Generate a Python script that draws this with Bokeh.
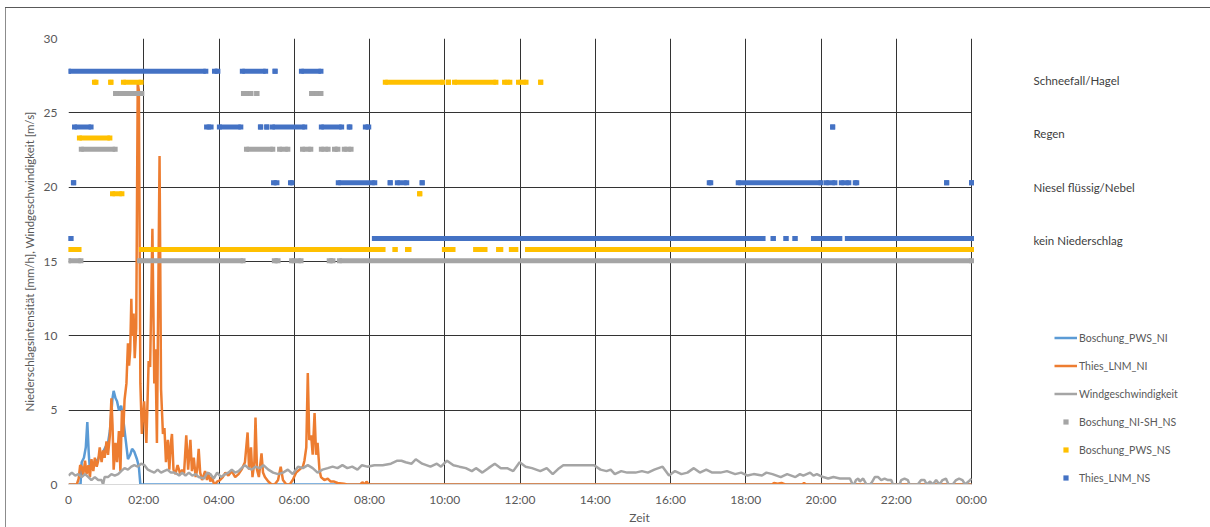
from bokeh.plotting import figure
from bokeh.models import FixedTicker, Legend, LegendItem
from bokeh.core.properties import value
from bokeh.embed import file_html
from bokeh.resources import INLINE

# ---------------- data ----------------
x_ticks = [0, 2, 4, 6, 8, 10, 12, 14, 16, 18, 20, 22, 24]
x_tick_labels = ["0", "02:00", "04:00", "06:00", "08:00", "10:00", "12:00",
                 "14:00", "16:00", "18:00", "20:00", "22:00", "00:00"]
y_ticks = [0, 5, 10, 15, 20, 25, 30]

category_y = [27.2, 23.6, 20.0, 16.4]
category_labels = ["Schneefall/Hagel", "Regen", "Niesel flüssig/Nebel", "kein Niederschlag"]

# Boschung_PWS_NI (hours, mm/h)
pws_ni_t = [0, 0.32, 0.35, 0.41, 0.46, 0.50, 0.54, 0.57, 0.61, 0.65, 0.70, 0.74, 0.79,
            0.84, 0.88, 0.92, 0.96, 1.00, 1.05, 1.10, 1.17, 1.20, 1.25, 1.29, 1.34,
            1.40, 1.45, 1.52, 1.58, 1.64, 1.69, 1.75, 1.82, 1.87, 1.91, 24]
pws_ni_v = [0, 0, 1.5, 1.8, 2.5, 4.2, 2.0, 1.0, 1.5, 1.2, 1.4, 1.6, 1.7,
            2.1, 2.0, 2.2, 2.4, 2.6, 2.8, 3.6, 5.8, 6.3, 5.8, 5.6, 5.0,
            5.3, 4.5, 3.0, 1.7, 2.0, 2.4, 2.2, 1.7, 1.2, 0.0, 0]

# Thies_LNM_NI (hours, mm/h)
lnm_ni_t = [0, 0.22, 0.27, 0.31, 0.35, 0.39, 0.44, 0.48, 0.53, 0.57, 0.61, 0.66, 0.70,
            0.75, 0.79, 0.83, 0.88, 0.92, 0.96, 1.01, 1.05, 1.10, 1.14, 1.17, 1.20,
            1.25, 1.29, 1.34, 1.38, 1.42, 1.45, 1.49, 1.54, 1.58, 1.61, 1.64, 1.67,
            1.69, 1.73, 1.76, 1.80, 1.84, 1.87, 1.91, 1.95, 2.01, 2.07, 2.13, 2.17,
            2.23, 2.28, 2.31, 2.35, 2.42, 2.46, 2.51, 2.55, 2.59, 2.61, 2.64, 2.68,
            2.72, 2.75, 2.79, 2.84, 2.90, 2.97, 3.02, 3.07, 3.13, 3.18, 3.24, 3.28,
            3.33, 3.38, 3.42, 3.46, 3.50, 3.55, 3.59, 3.63, 3.68, 3.72, 3.77, 3.81,
            3.86, 3.90, 3.95, 4.03, 4.10, 4.17, 4.25, 4.34, 4.43, 4.52, 4.60, 4.69,
            4.76, 4.80, 4.85, 4.89, 4.94, 4.97, 5.01, 5.06, 5.13, 5.17, 5.22, 5.31,
            5.40, 5.48, 5.57, 5.64, 5.70, 5.79, 5.88, 5.96, 6.05, 6.14, 6.23, 6.27,
            6.32, 6.36, 6.40, 6.45, 6.49, 6.54, 6.58, 6.62, 6.67, 6.71, 6.80, 6.89,
            6.97, 7.06, 7.15, 7.32, 7.41, 7.75, 7.81, 7.88, 7.92, 7.98, 18.70, 18.75,
            18.85, 18.95, 19.05, 19.50, 19.55, 19.60, 24]
lnm_ni_v = [0, 0, 0.4, 1.3, 1.2, 0.6, 1.6, 0.7, 1.3, 0.5, 1.7, 0.9, 1.8,
            1.2, 1.6, 2.5, 1.5, 2.3, 1.8, 2.9, 2.0, 3.3, 5.8, 4.0, 1.0,
            2.8, 1.5, 3.6, 0.9, 5.0, 3.2, 5.7, 6.8, 9.5, 8.0, 9.0, 12.5,
            10.0, 11.5, 8.5, 10.5, 27.0, 26.5, 6.8, 3.4, 5.6, 2.8, 8.3, 7.9,
            17.2, 6.8, 9.1, 2.8, 22.1, 6.4, 3.4, 3.8, 1.5, 2.2, 3.0, 1.0,
            2.8, 3.4, 1.0, 0.7, 1.3, 0.7, 1.0, 0.7, 3.3, 1.0, 3.0, 0.9,
            1.8, 0.5, 1.0, 2.4, 0.8, 0.3, 0.6, 0.9, 0.3, 0.8, 0.2, 0.5,
            0.1, 0.0, 0.2, 0.3, 0.5, 0.8, 0.6, 0.9, 0.5, 0.7, 1.0, 1.5,
            3.5, 1.0, 2.5, 0.5, 1.5, 4.5, 1.0, 0.5, 2.1, 0.8, 0.5, 0.2,
            0.0, 0.0, 0.3, 1.2, 0.3, 0.0, 0.0, 0.3, 0.8, 1.0, 1.2, 1.6,
            2.5, 7.5, 3.0, 3.3, 2.0, 4.8, 2.0, 2.8, 1.0, 0.5, 0.3, 0.4,
            0.2, 0.2, 0.1, 0.05, 0.0, 0.0, 0.15, 0.0, 0.2, 0.0, 0.0, 0.1,
            0.05, 0.1, 0.0, 0.0, 0.1, 0.0, 0]

# Windgeschwindigkeit (hours, m/s)
wind_t = [0, 0.09, 0.18, 0.26, 0.35, 0.44, 0.53, 0.61, 0.70, 0.79, 0.88, 0.92, 0.96,
          1.05, 1.14, 1.23, 1.32, 1.40, 1.49, 1.58, 1.67, 1.75, 1.84, 1.93, 2.02,
          2.11, 2.19, 2.28, 2.37, 2.46, 2.54, 2.63, 2.72, 2.81, 2.89, 2.94, 3.02,
          3.11, 3.20, 3.29, 3.38, 3.46, 3.60, 3.69, 3.77, 3.86, 3.95, 4.05, 4.17,
          4.25, 4.34, 4.43, 4.52, 4.60, 4.69, 4.78, 4.87, 4.97, 5.08, 5.18, 5.31,
          5.44, 5.57, 5.70, 5.83, 5.96, 6.10, 6.23, 6.36, 6.49, 6.62, 6.75, 6.89,
          7.02, 7.15, 7.28, 7.41, 7.54, 7.68, 7.80, 7.94, 8.13, 8.35, 8.57, 8.74,
          8.85, 8.96, 9.12, 9.23, 9.40, 9.62, 9.79, 9.90, 10.06, 10.23, 10.39, 10.56,
          10.72, 10.83, 11.00, 11.16, 11.33, 11.49, 11.66, 11.82, 11.99, 12.15, 12.32, 12.54,
          12.71, 12.87, 13.04, 13.15, 13.31, 13.64, 13.97, 14.14, 14.30, 14.41, 14.52, 14.69,
          14.85, 15.07, 15.24, 15.40, 15.57, 15.79, 15.96, 16.12, 16.29, 16.45, 16.62, 16.78,
          16.95, 17.11, 17.33, 17.50, 17.72, 17.88, 18.05, 18.21, 18.43, 18.55, 18.71, 18.93,
          19.10, 19.32, 19.44, 19.53, 19.62, 19.71, 19.80, 19.89, 19.97, 20.06, 20.19, 20.33,
          20.50, 20.68, 20.77, 20.84, 20.88, 20.93, 20.99, 21.03, 21.12, 21.21, 21.30, 21.34,
          21.43, 21.52, 21.60, 21.69, 21.78, 21.87, 21.91, 22.09, 22.13, 22.22, 22.31, 22.35,
          22.57, 22.66, 22.75, 22.81, 22.90, 22.97, 23.06, 23.15, 23.23, 23.32, 23.39, 23.50,
          23.59, 23.67, 23.76, 23.83, 23.92, 24.0]
wind_v = [0.6, 0.8, 0.6, 0.7, 0.5, 0.7, 0.5, 0.3, 0.5, 0.3, 0.3, 0.0, 0.5,
          0.5, 0.7, 0.6, 0.7, 0.9, 1.1, 1.0, 1.2, 1.3, 1.2, 1.4, 1.3,
          1.0, 0.9, 0.8, 1.0, 0.8, 0.9, 1.0, 0.8, 0.8, 0.7, 0.6, 0.8,
          0.6, 0.8, 0.6, 0.7, 0.5, 0.4, 0.8, 0.7, 0.4, 0.8, 0.5, 0.7,
          0.8, 1.0, 0.8, 0.9, 1.1, 1.3, 1.1, 1.0, 1.2, 1.1, 1.3, 1.0,
          0.8, 0.7, 0.8, 1.0, 0.7, 1.2, 1.1, 1.3, 1.1, 0.8, 1.0, 1.1,
          1.2, 1.1, 1.3, 1.1, 1.2, 1.0, 1.3, 1.2, 1.3, 1.3, 1.4, 1.6,
          1.6, 1.5, 1.4, 1.7, 1.4, 1.2, 1.4, 1.2, 1.6, 1.3, 1.2, 1.1,
          0.9, 1.1, 0.8, 1.1, 1.4, 1.1, 1.1, 0.9, 1.5, 1.2, 1.1, 0.9,
          1.1, 0.7, 1.1, 1.3, 1.3, 1.3, 1.3, 1.0, 0.9, 1.0, 0.7, 0.9,
          0.8, 0.8, 0.9, 0.8, 1.0, 1.2, 0.6, 0.9, 0.7, 0.8, 1.1, 0.8,
          1.0, 0.8, 0.8, 0.9, 0.7, 0.8, 0.6, 0.7, 0.6, 0.8, 0.7, 0.5,
          0.7, 0.5, 0.7, 0.6, 0.7, 0.8, 0.6, 0.7, 0.6, 0.5, 0.4, 0.5,
          0.4, 0.4, 0.4, 0.0, 0.0, 0.3, 0.4, 0.2, 0.4, 0.0, 0.0, 0.1,
          0.5, 0.5, 0.3, 0.4, 0.3, 0.3, 0.0, 0.0, 0.3, 0.4, 0.3, 0.0,
          0.0, 0.3, 0.3, 0.0, 0.2, 0.0, 0.3, 0.0, 0.3, 0.4, 0.0, 0.0,
          0.3, 0.4, 0.3, 0.0, 0.2, 0.4]

# Status series: runs of identical state (start hour, end hour, plotted level)
nish_ns_start = [1.25, 4.65, 5.00, 6.46, 0.34, 4.73, 5.61, 6.22, 6.72, 7.07, 7.33,
                 0.0, 1.89, 5.47, 5.93, 6.93, 7.20]
nish_ns_end = [1.95, 4.85, 5.01, 6.71, 1.24, 5.43, 5.83, 6.44, 6.90, 7.16, 7.51,
               0.33, 4.64, 5.57, 6.18, 7.03, 24.0]
nish_ns_level = [26.3, 26.3, 26.3, 26.3, 22.55, 22.55, 22.55, 22.55, 22.55, 22.55, 22.55,
                 15.05, 15.05, 15.05, 15.05, 15.05, 15.05]

pws_ns_start = [0.69, 1.12, 1.46, 8.42, 10.10, 10.26, 11.59, 11.96, 12.55,
                0.29, 1.17, 9.33,
                0.0, 1.94, 8.68, 9.01, 9.99, 10.82, 11.43, 11.77, 12.20]
pws_ns_end = [0.73, 1.13, 1.93, 9.95, 10.10, 11.36, 11.73, 12.16, 12.55,
              1.10, 1.42, 9.34,
              0.28, 8.36, 8.68, 9.05, 10.22, 11.07, 11.49, 11.89, 24.0]
pws_ns_level = [27.05, 27.05, 27.05, 27.05, 27.05, 27.05, 27.05, 27.05, 27.05,
                23.3, 19.55, 19.55,
                15.8, 15.8, 15.8, 15.8, 15.8, 15.8, 15.8, 15.8, 15.8]

lnm_ns_start = [0.0, 3.88, 4.62, 5.49, 6.19,
                0.16, 3.67, 4.01, 5.10, 5.27, 5.42, 6.72, 7.46, 7.89, 20.31,
                0.13, 5.45, 5.90, 7.17, 8.55, 8.74, 9.40, 17.03, 17.80, 20.14, 20.54, 20.91,
                23.34, 24.0,
                0.0, 8.13, 18.73, 19.07, 19.31, 19.80, 20.70]
lnm_ns_end = [3.65, 3.97, 5.24, 5.49, 6.71,
              0.60, 3.79, 4.58, 5.11, 5.27, 6.28, 7.26, 7.48, 7.98, 20.31,
              0.14, 5.54, 5.94, 8.14, 8.55, 8.99, 9.40, 17.07, 20.00, 20.37, 20.74, 20.95,
              23.34, 24.0,
              0.07, 18.46, 18.73, 19.07, 19.31, 20.50, 24.0]
lnm_ns_level = [27.8] * 5 + [24.05] * 10 + [20.3] * 14 + [16.55] * 7

# ---------------- layout constants ----------------
FONT = "Lato"
TXT = "#595959"
FIG_W, FIG_H = 1210, 527
BORDER_L, BORDER_T, BORDER_B = 68, 38, 43
FRAME_W = FIG_W - BORDER_L            # frame spans to the right edge
PX_PER_H = 903 / 24                   # pixels per hour of the time axis
X_END = FRAME_W / PX_PER_H            # extra room on the right for labels/legend
LABEL_X = 24 + 62 / PX_PER_H          # category labels column

p = figure(width=FIG_W, height=FIG_H, x_range=(0, X_END), y_range=(0, 30),
           output_backend="svg", toolbar_location=None,
           min_border_left=BORDER_L, min_border_right=0,
           min_border_top=BORDER_T, min_border_bottom=BORDER_B)
p.outline_line_color = None
p.background_fill_color = "white"
p.border_fill_color = None
p.styles = {
    "background-color": "white",
    "background-image": "linear-gradient(#595959, #595959), linear-gradient(#8c8c8c, #8c8c8c)",
    "background-size": "100% 1px, 1px 100%",
    "background-position": "5px 7px, 5px 7px",
    "background-repeat": "no-repeat",
}

p.xaxis.ticker = FixedTicker(ticks=x_ticks)
p.xaxis.major_label_overrides = {t: lab for t, lab in zip(x_ticks, x_tick_labels)}
p.xaxis.bounds = (0, 24)
p.yaxis.ticker = FixedTicker(ticks=y_ticks)

for ax in (p.xaxis[0], p.yaxis[0]):
    ax.major_tick_line_color = None
    ax.minor_tick_line_color = None
    ax.major_tick_out = 0
    ax.major_tick_in = 0
    ax.minor_tick_out = 0
    ax.minor_tick_in = 0
    ax.major_label_text_font = FONT
    ax.major_label_text_font_size = "12px"
    ax.major_label_text_color = TXT
    ax.axis_label_text_font = FONT
    ax.axis_label_text_font_style = "normal"
    ax.axis_label_text_color = TXT

p.xaxis.axis_line_color = "#d9d9d9"
p.yaxis.axis_line_color = None
p.xaxis.major_label_standoff = 7
p.yaxis.major_label_standoff = 11
p.xaxis.axis_label = "Zeit"
p.xaxis.axis_label_text_font_size = "12px"
p.xaxis.axis_label_standoff = 0
p.yaxis.axis_label = "Niederschlagsintensität [mm/h], Windgeschwindigkeit [m/s]"
p.yaxis.axis_label_text_font_size = "11.5px"
p.yaxis.axis_label_standoff = 5

p.xgrid.grid_line_color = "#333333"
p.ygrid.grid_line_color = "#333333"
p.xgrid.grid_line_width = 1
p.ygrid.grid_line_width = 1
p.ygrid.cross_bounds = (0, 24)

# right-hand category labels
p.text(x=[LABEL_X] * len(category_y), y=category_y, text=category_labels,
       text_font=value(FONT), text_font_size="11.5px", text_color="#404040",
       text_baseline="middle", text_align="left")

# lines
r_pws_ni = p.line(pws_ni_t, pws_ni_v, line_color="#5B9BD5", line_width=2.5)
r_lnm_ni = p.line(lnm_ni_t, lnm_ni_v, line_color="#ED7D31", line_width=2.5)
r_wind = p.line(wind_t, wind_v, line_color="#A5A5A5", line_width=2.5)

BAR_H = 0.336
def status(starts, ends, levels, color):
    p.hbar(y=levels, left=starts, right=ends, height=BAR_H,
           fill_color=color, line_color=None)
    return p.scatter(starts + ends, levels + levels, marker="square", size=5,
                     fill_color=color, line_color=None)

r_nish = status(nish_ns_start, nish_ns_end, nish_ns_level, "#A5A5A5")
r_pws_ns = status(pws_ns_start, pws_ns_end, pws_ns_level, "#FFC000")
r_lnm_ns = status(lnm_ns_start, lnm_ns_end, lnm_ns_level, "#4472C4")

legend = Legend(items=[
    LegendItem(label="Boschung_PWS_NI", renderers=[r_pws_ni]),
    LegendItem(label="Thies_LNM_NI", renderers=[r_lnm_ni]),
    LegendItem(label="Windgeschwindigkeit", renderers=[r_wind]),
    LegendItem(label="Boschung_NI-SH_NS", renderers=[r_nish]),
    LegendItem(label="Boschung_PWS_NS", renderers=[r_pws_ns]),
    LegendItem(label="Thies_LNM_NS", renderers=[r_lnm_ns]),
], location=(986, 0))
legend.padding = 0
legend.margin = 0
legend.border_line_color = None
legend.background_fill_alpha = 0
legend.glyph_width = 23
legend.glyph_height = 13
legend.label_height = 13
legend.spacing = 15
legend.label_standoff = 2
legend.label_text_font = FONT
legend.label_text_font_size = "10.5px"
legend.label_text_color = TXT
p.add_layout(legend)

open("out.html", "w").write(file_html(p, INLINE))
